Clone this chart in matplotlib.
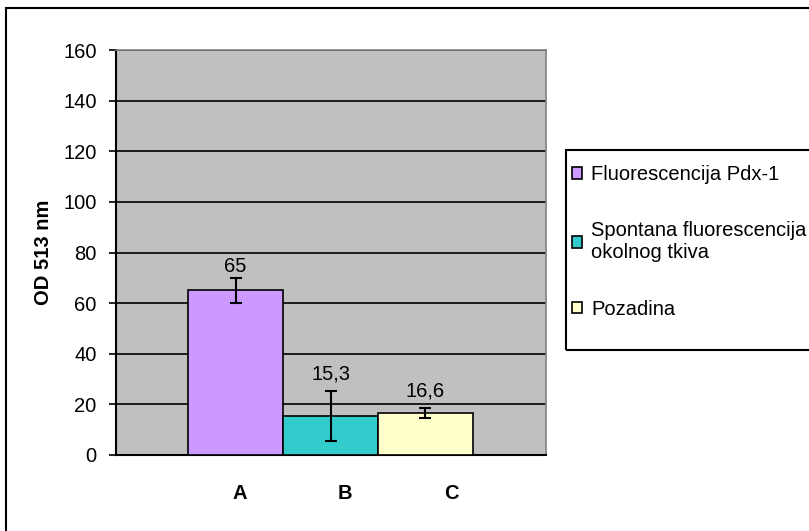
import matplotlib.pyplot as plt
from matplotlib.patches import Rectangle

plt.rcParams['font.family'] = ['Liberation Sans', 'DejaVu Sans']

# data
categories = ['A', 'B', 'C']
series_names = ['Fluorescencija Pdx-1', 'Spontana fluorescencija\nokolnog tkiva', 'Pozadina']
values = [65, 15.3, 16.6]
errors = [4.8, 9.8, 1.8]
value_labels = ['65', '15,3', '16,6']
colors = ['#CC99FF', '#33CCCC', '#FFFFCC']
yticks = [0, 20, 40, 60, 80, 100, 120, 140, 160]

# layout only (label placement)
cat_label_pos = [0.04, 1.15, 2.27]
label_gap = [2, 6, 6]

FS = 14.5
W, H = 809, 531
fig = plt.figure(figsize=(W / 100, H / 100), dpi=100)
ax = fig.add_axes([116 / W, 1 - 455 / H, 430 / W, 405 / H])
ax.set_facecolor('#C0C0C0')

xs = list(range(len(values)))
bars = ax.bar(xs, values, width=1.0, color=colors, edgecolor='black', linewidth=1.2, zorder=3)
ax.errorbar(xs, values, yerr=errors, fmt='none', ecolor='black', elinewidth=1.5,
            capsize=4, capthick=1.5, zorder=4)
for x, v, e, lab, g in zip(xs, values, errors, value_labels, label_gap):
    ax.annotate(lab, (x, v + e), xytext=(0, g), textcoords='offset points',
                ha='center', va='bottom', fontsize=FS)

ax.set_xlim(-1.26, 3.27)
ax.set_ylim(0, 160)
ax.set_yticks(yticks)
ax.tick_params(axis='y', labelsize=FS, length=5, width=1.2, direction='out', pad=9)
ax.set_xticks(cat_label_pos)
ax.set_xticklabels(categories, fontsize=FS, fontweight='bold')
ax.tick_params(axis='x', length=0, pad=21)
ax.yaxis.grid(True, color='black', linewidth=1.2, zorder=1)
ax.set_axisbelow(True)
ax.set_ylabel('OD 513 nm', fontsize=FS, fontweight='bold', labelpad=7)

for s in ['top', 'right']:
    ax.spines[s].set_color('#808080')
    ax.spines[s].set_linewidth(1.2)
for s in ['left', 'bottom']:
    ax.spines[s].set_color('black')
    ax.spines[s].set_linewidth(1.5)

# legend without frame, box drawn separately
leg = fig.legend(bars, series_names, loc='upper left',
                 bbox_to_anchor=(572 / W, 1 - 165 / H), frameon=False,
                 fontsize=FS, handlelength=0.5, handleheight=0.5, handletextpad=0.45,
                 labelspacing=1.85, borderpad=0, borderaxespad=0)
for p in leg.get_patches():
    p.set_edgecolor('black')
    p.set_linewidth(1.2)

fig.patches.append(Rectangle((566 / W, 1 - 350 / H), 260 / W, 200 / H,
                             transform=fig.transFigure, fill=False,
                             edgecolor='black', linewidth=1.5))
# outer chart border
fig.patches.append(Rectangle((5.5 / W, -0.05), 1.1, 1 - 8 / H + 0.05,
                             transform=fig.transFigure, fill=False,
                             edgecolor='black', linewidth=1.5))

fig.savefig('out.png', dpi=100)
